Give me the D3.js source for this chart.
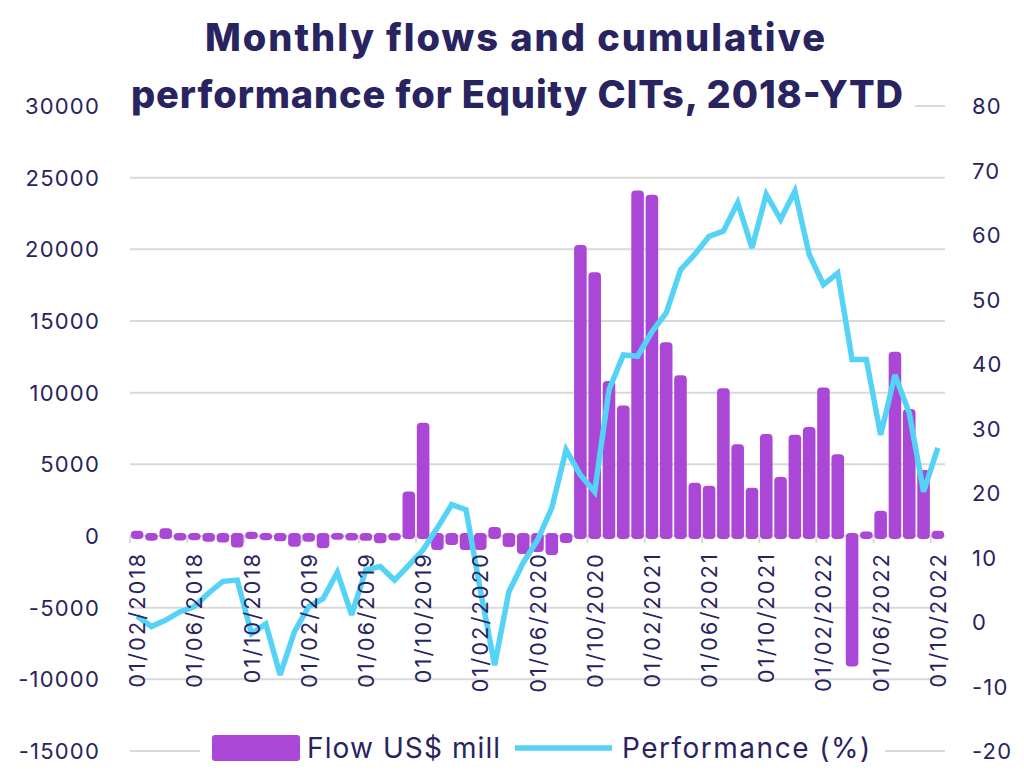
<!DOCTYPE html>
<html><head><meta charset="utf-8">
<script src="https://cdn.jsdelivr.net/npm/d3@7"></script>
<style>
html,body{margin:0;padding:0;background:#fff;}
svg{display:block;font-family:Inter, "Noto Sans", sans-serif;}
</style></head>
<body><svg id="c" width="1024" height="771"></svg>
<script>
const months = [];
for (let y = 2018, m = 2; !(y === 2022 && m === 11); ) {
  months.push("01/" + String(m).padStart(2, "0") + "/" + y);
  m++; if (m > 12) { m = 1; y++; }
}
const flows = [150, -120, 330, -100, -80, -200, -250, -600, 80, -80,
  -150, -540, -190, -650, -50, -100, -130, -300, -100, 2900,
  7700, -770, -420, -770, -770, 420, -560, -1050, -900, -1120,
  -280, 20100, 18200, 10600, 8900, 23900, 23600, 13300, 11000, 3500,
  3300, 10100, 6200, 3150, 6900, 3900, 6850, 7400, 10150, 5500,
  -8900, 100, 1550, 12650, 8650, 4400, 150];
const perf = [0.9, -0.7, 0.3, 1.6, 2.4, 4.5, 6.3, 6.5, -1.8, -0.3,
  -8.2, -1.5, 2.4, 3.6, 7.7, 1.1, 8.1, 8.6, 6.5, 8.8,
  11.2, 14.6, 18.2, 17.4, 5.0, -6.7, 4.7, 9.2, 12.7, 17.7,
  26.7, 22.8, 20.2, 36, 41.4, 41.2, 45, 47.9, 54.6, 57,
  59.8, 60.6, 65, 58, 66.3, 62.4, 66.8, 57, 52.3, 54.1,
  40.7, 40.7, 29, 38.3, 32.4, 20.2, 27];
const leftTicks = [-15000, -10000, -5000, 0, 5000, 10000, 15000, 20000, 25000, 30000];
const rightTicks = [-20, -10, 0, 10, 20, 30, 40, 50, 60, 70, 80];
const tickLabels = months.filter((d, i) => i % 4 === 0);
const titleLines = ["Monthly flows and cumulative", "performance for Equity CITs, 2018-YTD"];
const legendLabels = ["Flow US$ mill", "Performance (%)"];

const navy = "#29235f", purple = "#ab47d6", cyan = "#55d3f6", grid = "#d9d9d9";
const svg = d3.select("#c");
const L = 130, R = 945, T = 106, B = 751;
const x = d3.scaleBand().domain(months).range([L, R]).padding(0);
const yL = d3.scaleLinear().domain([-15000, 30000]).range([B, T]);
const yR = d3.scaleLinear().domain([-20, 80]).range([B, T]);
const step = x.step();

// gridlines
svg.append("g").selectAll("line").data(leftTicks).join("line")
  .attr("x1", L).attr("x2", R).attr("y1", d => yL(d)).attr("y2", d => yL(d))
  .attr("stroke", grid).attr("stroke-width", 2);

// x ticks
svg.append("g").selectAll("line").data(tickLabels).join("line")
  .attr("x1", d => x(d)).attr("x2", d => x(d))
  .attr("y1", yL(0)).attr("y2", yL(0) + 7)
  .attr("stroke", grid).attr("stroke-width", 2);

// left axis labels
svg.append("g").selectAll("text").data(leftTicks).join("text")
  .attr("x", 100).attr("y", d => yL(d)).attr("text-anchor", "end")
  .attr("dominant-baseline", "central").attr("fill", navy)
  .attr("font-size", 22).attr("letter-spacing", 1.2).text(d => d);

// right axis labels
svg.append("g").selectAll("text").data(rightTicks).join("text")
  .attr("x", 972).attr("y", d => yR(d)).attr("text-anchor", "start")
  .attr("dominant-baseline", "central").attr("fill", navy)
  .attr("font-size", 22).attr("letter-spacing", 1.2).text(d => d);

// bars
const pad = 3;
svg.append("g").selectAll("rect").data(months).join("rect")
  .attr("x", d => x(d) + step * 0.06)
  .attr("width", step * 0.88)
  .attr("y", (d, i) => yL(Math.max(flows[i], 0)) - pad)
  .attr("height", (d, i) => Math.abs(yL(flows[i]) - yL(0)) + 2 * pad)
  .attr("rx", 4).attr("fill", purple);

// performance line
const line = d3.line().x((d, i) => x(months[i]) + step / 2).y(d => yR(d));
svg.append("path").datum(perf).attr("d", line)
  .attr("fill", "none").attr("stroke", cyan).attr("stroke-width", 5.5)
  .attr("stroke-linejoin", "miter").attr("stroke-miterlimit", 3);

// x labels
svg.append("g").selectAll("text").data(tickLabels).join("text")
  .attr("transform", d => `translate(${x(d) + step / 2},552) rotate(-90)`)
  .attr("text-anchor", "end").attr("dominant-baseline", "central")
  .attr("fill", navy).attr("font-size", 22).attr("letter-spacing", 2)
  .text(d => d);

// title
svg.append("rect").attr("x", 125).attr("y", 8).attr("width", 790).attr("height", 112).attr("fill", "#fff");
const tl = [[515, 51, 620], [517, 108, 772]];
svg.append("g").selectAll("text").data(titleLines).join("text")
  .attr("x", (d, i) => tl[i][0]).attr("y", (d, i) => tl[i][1])
  .attr("text-anchor", "middle").attr("font-weight", 800)
  .attr("font-size", 38).attr("fill", navy)
  .attr("textLength", (d, i) => tl[i][2]).attr("lengthAdjust", "spacing")
  .text(d => d);

// legend
const lg = svg.append("g");
lg.append("rect").attr("x", 200).attr("y", 730).attr("width", 685).attr("height", 38).attr("fill", "#fff");
lg.append("rect").attr("x", 212).attr("y", 735).attr("width", 88).attr("height", 26).attr("rx", 3).attr("fill", purple);
lg.append("text").attr("x", 307).attr("y", 748).attr("dominant-baseline", "central")
  .attr("font-size", 28).attr("letter-spacing", 1.1).attr("fill", navy).text(legendLabels[0]);
lg.append("line").attr("x1", 515).attr("x2", 612).attr("y1", 748).attr("y2", 748)
  .attr("stroke", cyan).attr("stroke-width", 5.5);
lg.append("text").attr("x", 622).attr("y", 748).attr("dominant-baseline", "central")
  .attr("font-size", 28).attr("letter-spacing", 1.5).attr("fill", navy).text(legendLabels[1]);
</script></body></html>
